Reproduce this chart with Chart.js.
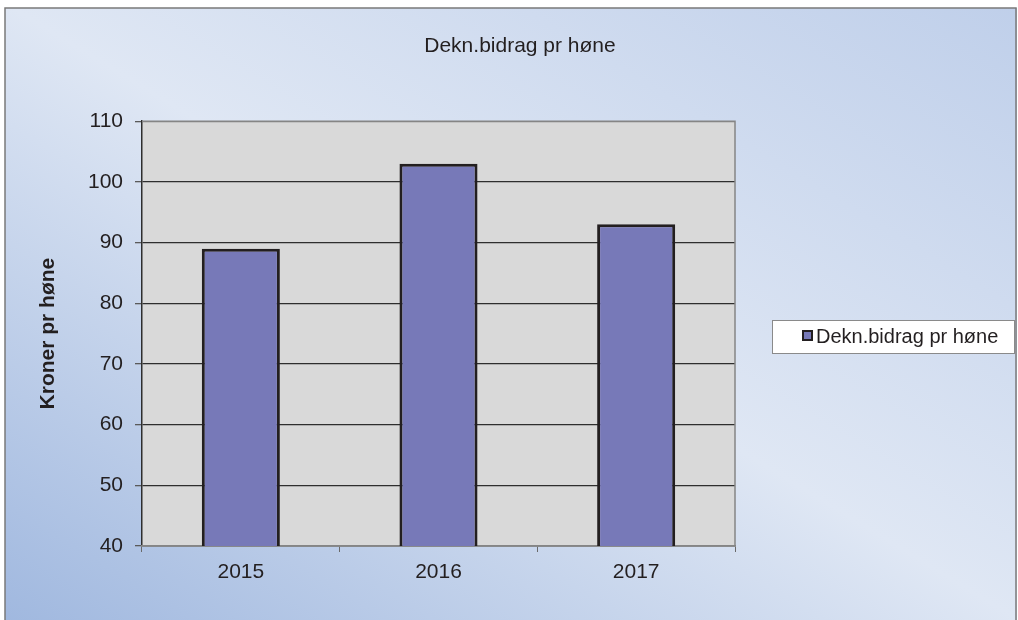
<!DOCTYPE html>
<html>
<head>
<meta charset="utf-8">
<script src="https://cdn.jsdelivr.net/npm/chart.js@4/dist/chart.umd.min.js"></script>
<style>
  html, body { margin: 0; padding: 0; background: #ffffff; }
  #wrap { width: 1018px; height: 620px; position: relative; }
</style>
</head>
<body>
<div id="wrap"><canvas id="c" width="1018" height="620"></canvas></div>
<script>
const categories = ['2015', '2016', '2017'];
const seriesName = 'Dekn.bidrag pr høne';
const seriesValues = [89, 103, 93];
const chartTitle = 'Dekn.bidrag pr høne';
const yAxisTitle = 'Kroner pr høne';
const yTicks = [40, 50, 60, 70, 80, 90, 100, 110];

const FONT = "'Liberation Sans', Arial, sans-serif";
const TEXT = '#231f20';
const BAR_FILL = '#7779b8';
const BAR_EDGE = '#231f20';

const backgroundPlugin = {
  id: 'bg',
  afterLayout(chart) {
    const t = chart.titleBlock;
    if (t) { t.left = 0; t.right = 1040; t.width = 1040; }
  },
  beforeDraw(chart) {
    const ctx = chart.ctx;
    const W = chart.width, H = chart.height;
    ctx.save();
    ctx.fillStyle = '#ffffff';
    ctx.fillRect(0, 0, W, H);
    const g = ctx.createLinearGradient(234, 762, 784, -142);
    g.addColorStop(0, '#a0b8df');
    g.addColorStop(0.5, '#dfe7f4');
    g.addColorStop(1, '#bfcfea');
    ctx.fillStyle = g;
    ctx.fillRect(5, 8, 1012, H - 8);
    ctx.strokeStyle = '#7a7a7a';
    ctx.lineWidth = 1.5;
    ctx.beginPath();
    ctx.moveTo(5, H);
    ctx.lineTo(5, 8);
    ctx.lineTo(1016, 8);
    ctx.lineTo(1016, H);
    ctx.stroke();
    const a = chart.chartArea;
    ctx.fillStyle = '#d9d9d9';
    ctx.fillRect(a.left, a.top, a.right - a.left, a.bottom - a.top);
    ctx.restore();
  },
  beforeDatasetsDraw(chart) {
    const ctx = chart.ctx;
    const a = chart.chartArea;
    ctx.save();
    ctx.strokeStyle = '#858585';
    ctx.lineWidth = 1.5;
    ctx.beginPath();
    ctx.moveTo(a.left, a.top);
    ctx.lineTo(a.right, a.top);
    ctx.lineTo(a.right, a.bottom);
    ctx.lineTo(a.left, a.bottom);
    ctx.stroke();
    ctx.restore();
  },
  afterDraw(chart) {
    const ctx = chart.ctx;
    ctx.save();
    ctx.fillStyle = '#ffffff';
    ctx.fillRect(772, 320, 243, 33);
    ctx.strokeStyle = '#8a8a8a';
    ctx.lineWidth = 1;
    ctx.strokeRect(772.5, 320.5, 242, 33);
    ctx.fillStyle = BAR_FILL;
    ctx.fillRect(802, 330, 11, 11);
    ctx.strokeStyle = BAR_EDGE;
    ctx.lineWidth = 2;
    ctx.strokeRect(803, 331, 9, 9);
    ctx.fillStyle = TEXT;
    ctx.font = '20px ' + FONT;
    ctx.textBaseline = 'middle';
    ctx.textAlign = 'left';
    ctx.fillText(chart.data.datasets[0].label, 816, 337);
    ctx.restore();
  }
};

new Chart(document.getElementById('c'), {
  type: 'bar',
  data: {
    labels: categories,
    datasets: [{
      label: seriesName,
      data: seriesValues,
      backgroundColor: BAR_FILL,
      borderColor: BAR_EDGE,
      borderWidth: 3,
      barPercentage: 0.395,
      categoryPercentage: 1.0
    }]
  },
  options: {
    responsive: false,
    animation: false,
    devicePixelRatio: 1,
    layout: { padding: { left: 36, right: 283, top: 0, bottom: 0 } },
    plugins: {
      legend: { display: false },
      tooltip: { enabled: false },
      title: {
        display: true,
        text: chartTitle,
        color: TEXT,
        font: { family: FONT, size: 21, weight: 'normal' },
        padding: { top: 34, bottom: 62 }
      }
    },
    scales: {
      y: {
        min: 40,
        max: 110,
        afterBuildTicks(scale) { scale.ticks = yTicks.map(v => ({ value: v })); },
        afterFit(scale) { scale.width = 106; },
        ticks: {
          color: TEXT,
          font: { family: FONT, size: 21 },
          padding: 12
        },
        grid: {
          color: ctx => (ctx.tick && ctx.tick.value === 110) ? '#858585' : '#2e2e2e',
          lineWidth: 1.3,
          tickLength: 7,
          tickColor: '#5a5a5a'
        },
        border: { color: '#2e2e2e', width: 1.5 },
        title: {
          display: true,
          text: yAxisTitle,
          color: TEXT,
          font: { family: FONT, size: 21, weight: 'bold' },
          padding: { top: 0, bottom: 0 }
        }
      },
      x: {
        afterFit(scale) { scale.height = 74; },
        ticks: {
          color: TEXT,
          font: { family: FONT, size: 21 },
          padding: 8
        },
        grid: {
          drawOnChartArea: false,
          offset: true,
          tickLength: 6,
          tickColor: '#6a6a6a'
        },
        border: { color: '#858585', width: 1.5 }
      }
    }
  },
  plugins: [backgroundPlugin]
});
</script>
</body>
</html>
